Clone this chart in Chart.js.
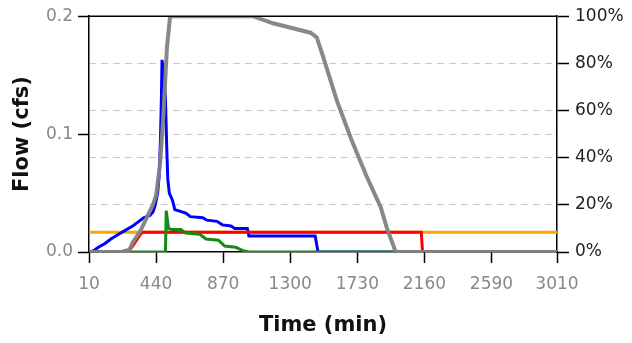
<!DOCTYPE html>
<html>
<head>
<meta charset="utf-8">
<script src="https://cdn.jsdelivr.net/npm/chart.js@4"></script>
<style>
  body { margin: 0; background: #fff; }
</style>
</head>
<body>
<canvas id="chart" width="632" height="343"></canvas>
<script>
// time ticks (min)
var xTicks = [10, 440, 870, 1300, 1730, 2160, 2590, 3010];

// blue - flow (cfs)
var blueTime = [10, 40, 70, 110, 150, 200, 250, 290, 330, 360, 400, 420, 435, 450, 460, 468, 474, 478, 490, 500, 508, 515, 525, 545, 560, 630, 660, 740, 765, 830, 865, 920, 945, 1025, 1035, 1460, 1478, 3010];
var blueFlow = [0, 0.001, 0.004, 0.007, 0.011, 0.015, 0.019, 0.022, 0.026, 0.029, 0.031, 0.034, 0.040, 0.050, 0.065, 0.095, 0.13, 0.163, 0.15, 0.13, 0.09, 0.062, 0.05, 0.044, 0.036, 0.033, 0.030, 0.029, 0.027, 0.026, 0.023, 0.022, 0.020, 0.020, 0.0135, 0.0135, 0, 0];

// red - flow (cfs)
var redTime = [10, 260, 290, 320, 345, 360, 2140, 2148, 3010];
var redFlow = [0, 0, 0.005, 0.011, 0.016, 0.0167, 0.0167, 0, 0];

// green - flow (cfs)
var greenTime = [10, 500, 505, 520, 540, 600, 630, 720, 760, 840, 880, 950, 1000, 1030, 3010];
var greenFlow = [0, 0, 0.035, 0.02, 0.019, 0.019, 0.016, 0.015, 0.011, 0.010, 0.005, 0.004, 0.001, 0, 0];

// orange - flow (cfs)
var orangeTime = [10, 3010];
var orangeFlow = [0.0167, 0.0167];

// gray - percent (right axis)
var grayTime = [10, 220, 270, 290, 340, 390, 420, 440, 465, 485, 510, 530, 1060, 1190, 1430, 1470, 1510, 1600, 1690, 1790, 1880, 1920, 1960, 1975, 3010];
var grayPct = [0, 0, 1, 4, 9, 16, 20, 24, 37, 56, 87, 100, 100, 97, 93, 91, 83, 64, 48, 32, 19, 10, 3, 0, 0];

function pts(xs, ys) {
  return xs.map(function(x, i) { return {x: x, y: ys[i]}; });
}

Chart.defaults.font.family = 'DejaVu Sans';

var framePlugin = {
  id: 'frame',
  afterDraw: function(chart) {
    var a = chart.chartArea, ctx = chart.ctx;
    ctx.save();
    ctx.strokeStyle = '#000';
    ctx.lineWidth = 1.5;
    ctx.beginPath();
    ctx.moveTo(a.left, a.top);
    ctx.lineTo(a.right, a.top);
    ctx.stroke();
    ctx.restore();
  }
};

var line = function(data, color, width, axis) {
  return {
    data: data,
    borderColor: color,
    borderWidth: width,
    pointRadius: 0,
    tension: 0,
    fill: false,
    yAxisID: axis
  };
};

var config = {
  type: 'line',
  data: {
    datasets: [
      line(pts(grayTime, grayPct), 'rgba(130,130,130,0.95)', 4, 'y1'),
      line(pts(greenTime, greenFlow), '#158a15', 3, 'y'),
      line(pts(redTime, redFlow), '#ff0000', 3, 'y'),
      line(pts(blueTime, blueFlow), '#0000ff', 3, 'y'),
      line(pts(orangeTime, orangeFlow), '#ffa500', 3, 'y')
    ]
  },
  options: {
    responsive: false,
    animation: false,
    layout: { padding: { top: 12, left: 0, right: 0, bottom: 0 } },
    plugins: { legend: { display: false }, tooltip: { enabled: false } },
    scales: {
      x: {
        type: 'linear',
        min: 10,
        max: 3010,
        afterBuildTicks: function(scale) {
          scale.ticks = xTicks.map(function(v) { return {value: v}; });
        },
        afterFit: function(scale) { scale.height = 91; },
        ticks: { color: '#888', font: { size: 17 }, padding: 11, maxRotation: 0,
          callback: function(v) { return String(v); } },
        grid: { drawOnChartArea: false, tickLength: 11, tickColor: '#000', tickWidth: 1.5 },
        border: { color: '#000', width: 1.5 },
        title: { display: true, text: 'Time (min)', color: '#111', font: { size: 21, weight: 'bold' }, padding: { top: 0, bottom: 5 } }
      },
      y: {
        position: 'left',
        min: 0,
        max: 0.2,
        afterFit: function(scale) { scale.width = 89; },
        ticks: { stepSize: 0.1, color: '#888', font: { size: 17 }, padding: 5,
          callback: function(v) { return v.toFixed(1); } },
        grid: {
          color: function(c) { return (c.tick && c.tick.value > 0.01 && c.tick.value < 0.19) ? '#c8c8c8' : 'rgba(0,0,0,0)'; },
          tickLength: 11, tickColor: '#000', tickWidth: 1.5, tickBorderDash: []
        },
        border: { color: '#000', width: 1.5, dash: [7, 5] },
        title: { display: true, text: 'Flow (cfs)', color: '#111', font: { size: 21, weight: 'bold' }, padding: { top: 10, bottom: 0 } }
      },
      y1: {
        position: 'right',
        min: 0,
        max: 100,
        afterFit: function(scale) { scale.width = 75; },
        ticks: { stepSize: 20, color: '#222', font: { size: 17 }, padding: 6,
          callback: function(v) { return v + '%'; } },
        grid: {
          color: function(c) { return (c.tick && c.tick.value > 1 && c.tick.value < 99) ? '#c8c8c8' : 'rgba(0,0,0,0)'; },
          tickLength: 12, tickColor: '#000', tickWidth: 1.5, tickBorderDash: []
        },
        border: { color: '#000', width: 1.5, dash: [7, 5] }
      }
    }
  },
  plugins: [framePlugin]
};

window.onload = function() {
  var ctx = document.getElementById('chart').getContext('2d');
  window.myChart = new Chart(ctx, config);
};
</script>
</body>
</html>
